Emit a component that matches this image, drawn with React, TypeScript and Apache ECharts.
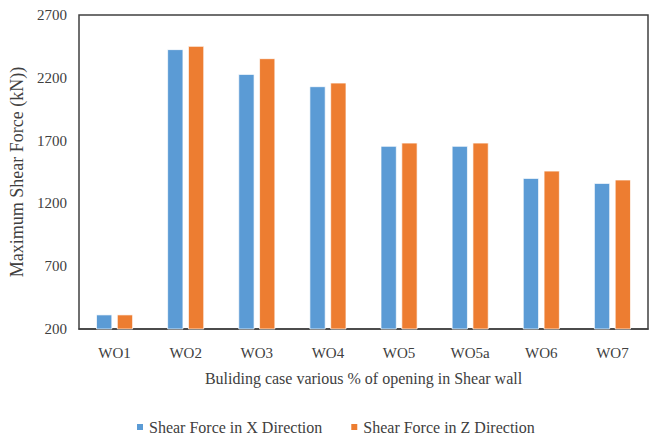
import React, { useEffect, useRef } from "react";
import * as echarts from "echarts";

const categories = ["WO1", "WO2", "WO3", "WO4", "WO5", "WO5a", "WO6", "WO7"];
const shearX = [315, 2427, 2230, 2132, 1657, 1657, 1402, 1362];
const shearZ = [315, 2453, 2355, 2161, 1683, 1683, 1460, 1389];
const yTicks = [200, 700, 1200, 1700, 2200, 2700];

const FONT = "Liberation Serif";

export default function App() {
  const ref = useRef<HTMLDivElement>(null);

  useEffect(() => {
    if (!ref.current) return;
    const chart = echarts.init(ref.current, undefined, { renderer: "svg" });
    chart.setOption({
      animation: false,
      backgroundColor: "#ffffff",
      textStyle: { fontFamily: FONT, color: "#404040" },
      grid: {
        left: 79,
        right: 2,
        top: 15,
        bottom: 109,
        show: true,
        borderColor: "#404040",
        borderWidth: 1.5,
      },
      legend: {
        left: 130,
        top: 414,
        itemWidth: 8,
        itemHeight: 8,
        itemGap: 27,
        icon: "rect",
        textStyle: { fontFamily: FONT, fontSize: 16, color: "#404040" },
        data: ["Shear Force in X Direction", "Shear Force in Z Direction"],
      },
      xAxis: {
        type: "category",
        data: categories,
        name: "Buliding case various % of opening in Shear wall",
        nameLocation: "middle",
        nameGap: 41,
        nameTextStyle: { fontFamily: FONT, fontSize: 16, color: "#404040" },
        axisLine: { show: true, lineStyle: { color: "#404040", width: 1.5 } },
        axisTick: { show: false },
        axisLabel: { fontFamily: FONT, fontSize: 15, color: "#404040", margin: 16 },
      },
      yAxis: {
        type: "value",
        min: yTicks[0],
        max: yTicks[yTicks.length - 1],
        interval: 500,
        name: "Maximum Shear Force (kN))",
        nameLocation: "middle",
        nameGap: 50,
        nameTextStyle: { fontFamily: FONT, fontSize: 18, color: "#404040" },
        axisLine: { show: false },
        axisTick: { show: false },
        splitLine: { show: false },
        axisLabel: {
          fontFamily: FONT,
          fontSize: 15,
          color: "#404040",
          margin: 12,
          formatter: (v: number) => String(v),
        },
      },
      series: [
        {
          name: "Shear Force in X Direction",
          type: "bar",
          data: shearX,
          barWidth: 16,
          barGap: "30%",
          itemStyle: { color: "#5B9BD5", borderColor: "#ffffff", borderWidth: 0.7 },
        },
        {
          name: "Shear Force in Z Direction",
          type: "bar",
          data: shearZ,
          barWidth: 16,
          barGap: "30%",
          itemStyle: { color: "#ED7D31", borderColor: "#ffffff", borderWidth: 0.7 },
        },
      ],
    });
    return () => chart.dispose();
  }, []);

  return <div ref={ref} style={{ width: 650, height: 438, position: "absolute", left: 0, top: 0 }} />;
}
